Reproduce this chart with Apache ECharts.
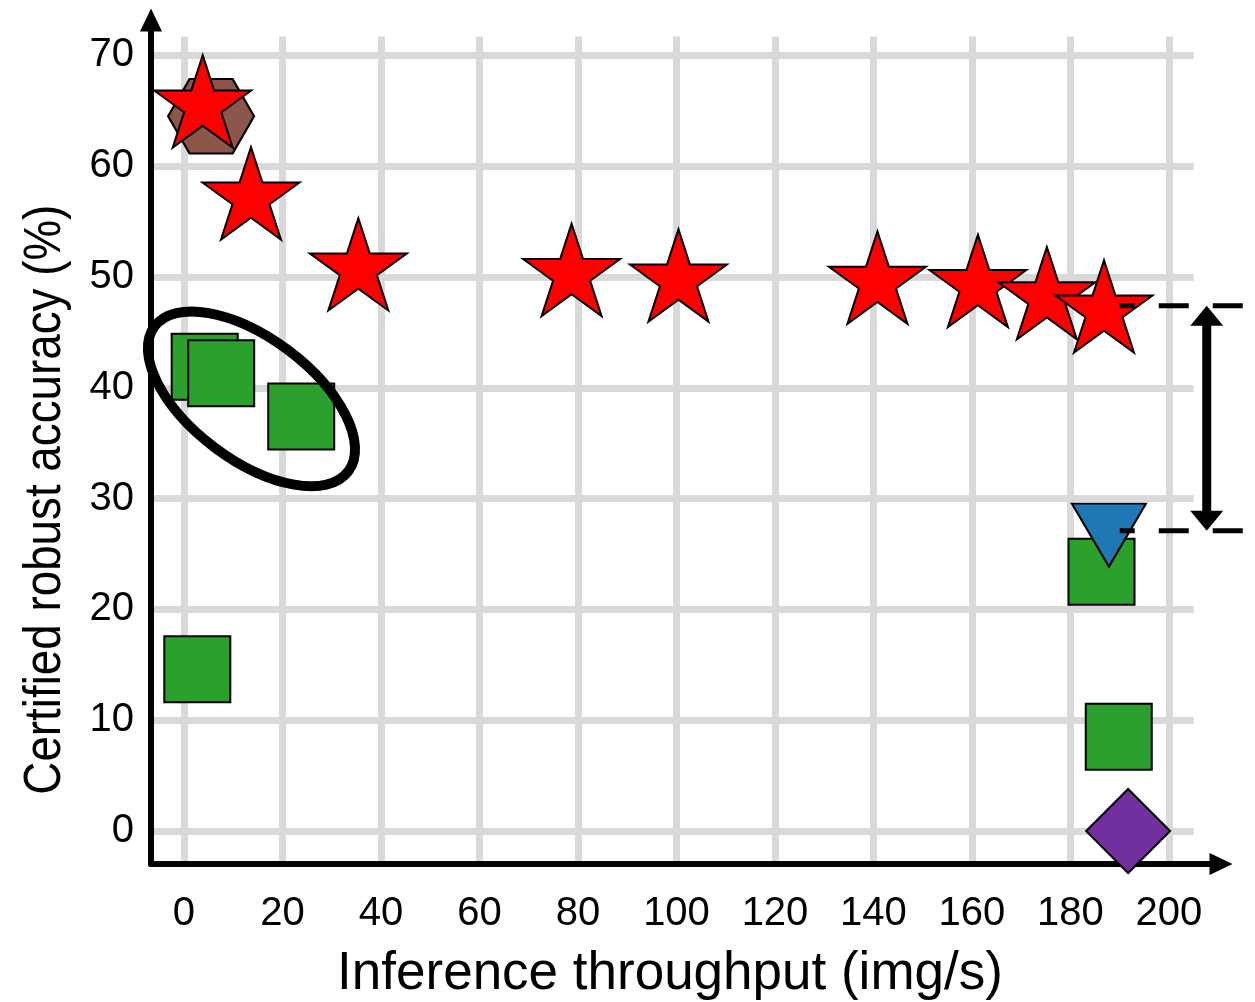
<!DOCTYPE html>
<html>
<head>
<meta charset="utf-8">
<script src="https://cdn.jsdelivr.net/npm/echarts@6/dist/echarts.min.js"></script>
<style>
html,body{margin:0;padding:0;background:#fff;}
#chart{width:1255px;height:1002px;}
</style>
</head>
<body>
<div id="chart"></div>
<script>
// ---- data ----
const xTickLabels = [0, 20, 40, 60, 80, 100, 120, 140, 160, 180, 200];
const yTickLabels = [0, 10, 20, 30, 40, 50, 60, 70];

const starX = [3.8, 13.6, 35.4, 78.7, 100.4, 140.8, 161.2, 175.2, 186.8];
const starY = [65.4, 57.1, 50.7, 50.2, 49.7, 49.5, 49.2, 48.1, 46.9];

const squareX = [4.2, 7.55, 23.8, 2.7, 186.3, 189.8];
const squareY = [41.9, 41.3, 37.4, 14.6, 23.4, 8.5];

const hexagonX = [5.5];
const hexagonY = [64.5];

const triangleX = [187.8];
const triangleY = [26.7];

const diamondX = [191.7];
const diamondY = [0];

// annotation anchors (data coordinates)
const ellipseCenter = [13.7, 39.0];
const gapTop = 47.4;
const gapBottom = 27.1;
const gapArrowX = 207.66;
const gapLineX = [190.0, 215.0];

const xTitle = 'Inference throughput (img/s)';
const yTitle = 'Certified robust accuracy (%)';

// ---- helpers ----
const pairs = (xs, ys) => xs.map((x, i) => [x, ys[i]]);
const FONT = "'Liberation Sans', Arial, Helvetica, sans-serif";

const X_MIN = -6.7, X_MAX = 210.56, Y_MIN = -2.98, Y_MAX = 73.19;

const starPath = 'path://M0,-100L22.45,-30.9L95.11,-30.9L36.33,11.8L58.78,80.9L0,38.2L-58.78,80.9L-36.33,11.8L-95.11,-30.9L-22.45,-30.9Z';
const hexPath = 'path://M100,0L50,86.6L-50,86.6L-100,0L-50,-86.6L50,-86.6Z';
const STAR_R = 51;

const gridLineData = [];
xTickLabels.forEach(v => gridLineData.push([{coord: [v, Y_MIN + 0.05]}, {coord: [v, 71.7]}]));
yTickLabels.forEach(v => gridLineData.push([{coord: [X_MIN + 0.05, v]}, {coord: [205, v]}]));

const chart = echarts.init(document.getElementById('chart'), null, {renderer: 'canvas'});

const option = {
  animation: false,
  backgroundColor: '#fff',
  grid: {left: 151, right: 34, top: 20, bottom: 138, containLabel: false, outerBoundsMode: 'none'},
  xAxis: {
    type: 'value', min: X_MIN, max: X_MAX, z: 2,
    name: xTitle,
    nameLocation: 'middle', nameGap: 84,
    nameTextStyle: {fontSize: 53, color: '#000', fontFamily: FONT, padding: [0, 32, 0, 0]},
    axisLine: {show: true, onZero: false, symbol: ['none', 'triangle'], symbolSize: [22, 23],
      lineStyle: {color: '#000', width: 6}},
    axisTick: {show: false},
    splitLine: {show: false},
    axisLabel: {customValues: xTickLabels, fontSize: 40, color: '#000', fontFamily: FONT, margin: 30,
      formatter: v => String(v)}
  },
  yAxis: {
    type: 'value', min: Y_MIN, max: Y_MAX, z: 2,
    axisLine: {show: true, onZero: false, symbol: ['none', 'triangle'], symbolSize: [22, 23],
      lineStyle: {color: '#000', width: 6}},
    axisTick: {show: false},
    splitLine: {show: false},
    axisLabel: {customValues: yTickLabels, fontSize: 40, color: '#000', fontFamily: FONT, margin: 17,
      formatter: v => String(v)}
  },
  series: [
    {
      type: 'scatter', name: 'grid', data: [], z: 1, silent: true,
      markLine: {
        silent: true, z: 0, symbol: ['none', 'none'], animation: false,
        label: {show: false},
        lineStyle: {color: '#d9d9d9', width: 7, type: 'solid'},
        emphasis: {disabled: true},
        data: gridLineData
      }
    },
    {
      type: 'scatter', name: 'square', z: 3,
      data: pairs(squareX, squareY),
      symbol: 'rect', symbolSize: 66,
      itemStyle: {color: '#2ca02c', borderColor: '#000', borderWidth: 2, opacity: 1}
    },
    {
      type: 'scatter', name: 'hexagon', z: 3,
      data: pairs(hexagonX, hexagonY),
      symbol: hexPath, symbolSize: [86, 74.5],
      itemStyle: {color: '#8c564b', borderColor: '#000', borderWidth: 2, opacity: 1}
    },
    {
      type: 'scatter', name: 'triangle', z: 3,
      data: pairs(triangleX, triangleY),
      symbol: 'triangle', symbolRotate: 180, symbolSize: [74, 63],
      itemStyle: {color: '#1f77b4', borderColor: '#000', borderWidth: 2, opacity: 1}
    },
    {
      type: 'scatter', name: 'diamond', z: 3, clip: false,
      data: pairs(diamondX, diamondY),
      symbol: 'diamond', symbolSize: 84,
      itemStyle: {color: '#7030a0', borderColor: '#000', borderWidth: 2, opacity: 1}
    },
    {
      type: 'scatter', name: 'star', z: 3,
      data: pairs(starX, starY),
      symbol: starPath, symbolSize: [1.9022 * STAR_R, 1.809 * STAR_R],
      symbolOffset: [0, -0.0955 * STAR_R],
      itemStyle: {color: '#ff0000', borderColor: '#000', borderWidth: 2, opacity: 1}
    }
  ]
};
chart.setOption(option);

// ---- annotations anchored to data coordinates ----
const toPx = p => chart.convertToPixel({gridIndex: 0}, p);
const ec = toPx(ellipseCenter);
const aTop = toPx([gapArrowX, gapTop]);
const aBot = toPx([gapArrowX, gapBottom]);
const dTopL = toPx([gapLineX[0], gapTop]), dTopR = toPx([gapLineX[1], gapTop]);
const dBotL = toPx([gapLineX[0], gapBottom]), dBotR = toPx([gapLineX[1], gapBottom]);
const yMid = toPx([0, 29.9])[1];
const headL = 20, headW = 16.5;

chart.setOption({
  graphic: [
    {type: 'text', x: 46, y: yMid, rotation: Math.PI / 2, scaleX: 0.88, z: 50,
      style: {text: yTitle, fontSize: 52, fontFamily: FONT, fill: '#000', align: 'center', verticalAlign: 'middle'}},
    {type: 'ellipse', x: ec[0], y: ec[1], rotation: -36.8 * Math.PI / 180, z: 50,
      shape: {cx: 0, cy: 0, rx: 121, ry: 61},
      style: {fill: 'none', stroke: '#000', lineWidth: 10}},
    {type: 'line', z: 50, shape: {x1: dTopL[0], y1: dTopL[1], x2: dTopR[0], y2: dTopR[1]},
      style: {stroke: '#000', lineWidth: 5, lineDash: [30, 24], lineDashOffset: 15}},
    {type: 'line', z: 50, shape: {x1: dBotL[0], y1: dBotL[1], x2: dBotR[0], y2: dBotR[1]},
      style: {stroke: '#000', lineWidth: 5, lineDash: [30, 24], lineDashOffset: 15}},
    {type: 'line', z: 50, shape: {x1: aTop[0], y1: aTop[1] + headL - 2, x2: aBot[0], y2: aBot[1] - headL + 2},
      style: {stroke: '#000', lineWidth: 9}},
    {type: 'polygon', z: 50, shape: {points: [[aTop[0], aTop[1]], [aTop[0] - headW, aTop[1] + headL], [aTop[0] + headW, aTop[1] + headL]]},
      style: {fill: '#000'}},
    {type: 'polygon', z: 50, shape: {points: [[aBot[0], aBot[1]], [aBot[0] - headW, aBot[1] - headL], [aBot[0] + headW, aBot[1] - headL]]},
      style: {fill: '#000'}}
  ]
});
</script>
</body>
</html>
